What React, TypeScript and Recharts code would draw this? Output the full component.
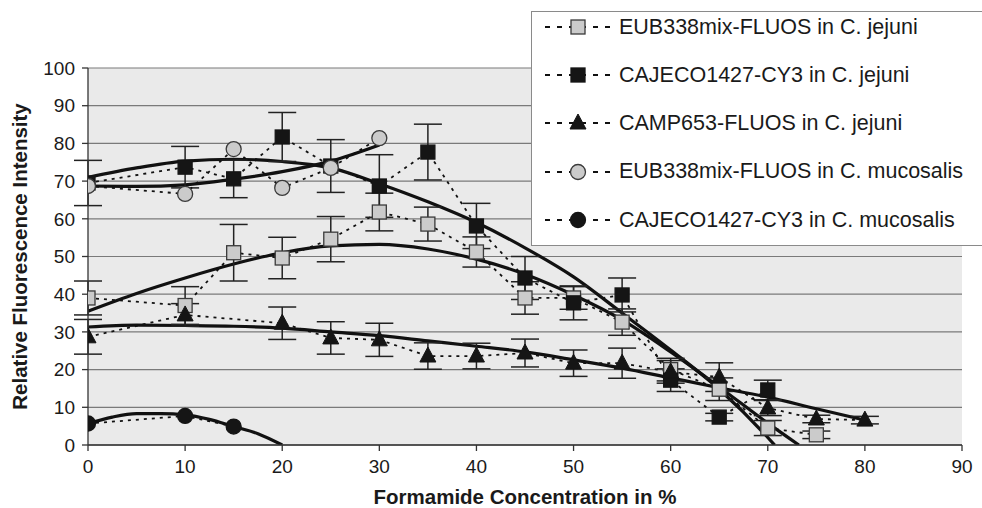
import { ComposedChart, Line, XAxis, YAxis, CartesianGrid, ErrorBar, Label } from "recharts";

const FONT = '"Liberation Sans", Arial, Helvetica, sans-serif';
const GRAY = "#cbcbcb";
const BLACK = "#151515";

// x = formamide %, y = relative fluorescence, err = +/- error
const eubJejuniX = [0, 10, 15, 20, 25, 30, 35, 40, 45, 50, 55, 60, 65, 70, 75];
const eubJejuniY = [39, 37, 51, 49.6, 54.6, 61.8, 58.6, 51.2, 39, 39, 32.6, 20, 14.8, 4.5, 2.7];
const eubJejuniErr = [4.5, 5, 7.5, 5.5, 6, 5, 4.5, 4, 4.3, 3, 3.5, 3, 3, 2, 1];

const cajJejuniX = [0, 10, 15, 20, 25, 30, 35, 40, 45, 50, 55, 60, 65, 70];
const cajJejuniY = [69.5, 73.7, 70.6, 81.7, 74, 68.7, 77.7, 58.1, 44.3, 37.7, 39.8, 17.2, 7.4, 14.6];
const cajJejuniErr = [6, 5.5, 5, 6.5, 7, 8.3, 7.4, 6, 5.7, 4.5, 4.5, 3, 1, 2.6];

const campJejuniX = [0, 10, 20, 25, 30, 35, 40, 45, 50, 55, 60, 65, 70, 75, 80];
const campJejuniY = [28.7, 34.5, 32.3, 28.4, 27.9, 23.6, 23.6, 24.4, 21.7, 21.7, 19.4, 18, 9.8, 6.9, 6.6];
const campJejuniErr = [4.6, 3, 4.3, 4.3, 4.4, 3.5, 3.4, 3.7, 3.5, 4, 3, 3.8, 2, 1, 1];

const eubMucoX = [0, 10, 15, 20, 25, 30];
const eubMucoY = [68.7, 66.6, 78.5, 68.2, 73.5, 81.4];

const cajMucoX = [0, 10, 15];
const cajMucoY = [5.7, 7.7, 4.9];

// trend curves
const eubJejuniTrendX = [0, 5, 10, 15, 20, 25, 30, 35, 40, 45, 50, 55, 60, 65, 70, 73.2];
const eubJejuniTrendY = [35.5, 40.2, 44.3, 48, 51, 52.8, 53.2, 52, 49.3, 45.3, 39.8, 33.2, 24.7, 15.4, 5.8, 0];

const cajJejuniTrendX = [0, 5, 10, 15, 20, 25, 30, 35, 40, 45, 50, 55, 60, 65, 70, 70.7];
const cajJejuniTrendY = [71, 73.5, 75.3, 75.8, 75.2, 73.5, 69.3, 64.5, 59, 52.3, 44.6, 35, 25.2, 14.8, 2, 0];

const campJejuniTrendX = [0, 5, 10, 15, 20, 25, 30, 35, 40, 45, 50, 55, 60, 65, 70, 75, 80];
const campJejuniTrendY = [31.3, 31.8, 31.7, 31.5, 31, 30, 29, 27.6, 26.2, 24.7, 22.6, 20.4, 17.8, 15.2, 12.7, 9.6, 6.6];

const eubMucoTrendX = [0, 5, 10, 15, 20, 25, 30];
const eubMucoTrendY = [68.7, 68.6, 69, 70.5, 72.5, 75.3, 79.6];

const cajMucoTrendX = [0, 2.5, 5, 7.5, 10, 12.5, 15, 17.5, 20];
const cajMucoTrendY = [5.7, 7.4, 8.3, 8.3, 8.0, 6.8, 4.9, 3.0, 0];

const xTicks = [0, 10, 20, 30, 40, 50, 60, 70, 80, 90];
const yTicks = [0, 10, 20, 30, 40, 50, 60, 70, 80, 90, 100];

type Shape = "square" | "triangle" | "circle";

const LEGEND: { name: string; shape: Shape; fill: string }[] = [
  { name: "EUB338mix-FLUOS in C. jejuni", shape: "square", fill: GRAY },
  { name: "CAJECO1427-CY3 in C. jejuni", shape: "square", fill: BLACK },
  { name: "CAMP653-FLUOS in C. jejuni", shape: "triangle", fill: BLACK },
  { name: "EUB338mix-FLUOS in C. mucosalis", shape: "circle", fill: GRAY },
  { name: "CAJECO1427-CY3 in C. mucosalis", shape: "circle", fill: BLACK },
];

const zip = (xs: number[], ys: number[], errs?: number[]) =>
  xs.map((x, i) => ({ x, y: ys[i], err: errs ? errs[i] : 0 }));

function Marker({ cx, cy, shape, fill }: { cx: number; cy: number; shape: Shape; fill: string }) {
  if (cx == null || cy == null || isNaN(cx) || isNaN(cy)) return null;
  const edge = fill === GRAY ? "#3a3a3a" : BLACK;
  if (shape === "square")
    return <rect x={cx - 7} y={cy - 7} width={14} height={14} fill={fill} stroke={edge} strokeWidth={1.3} />;
  if (shape === "triangle")
    return <polygon points={`${cx},${cy - 9} ${cx + 8},${cy + 6} ${cx - 8},${cy + 6}`} fill={fill} stroke={edge} strokeWidth={1} />;
  return <circle cx={cx} cy={cy} r={7.5} fill={fill} stroke={edge} strokeWidth={1.3} />;
}

const dotOf = (shape: Shape, fill: string) => (p: any) => (
  <Marker key={`${shape}-${fill}-${p.index}`} cx={p.cx} cy={p.cy} shape={shape} fill={fill} />
);

function LegendBox() {
  const centers = [26, 74, 122, 170.5, 219];
  return (
    <div
      style={{
        position: "absolute",
        left: 531,
        top: 11,
        width: 451,
        height: 235,
        boxSizing: "border-box",
        border: "1.5px solid #8a8a8a",
        borderRight: "none",
        background: "#fff",
        fontFamily: FONT,
      }}
    >
      {LEGEND.map((item, i) => (
        <div
          key={item.name}
          style={{
            position: "absolute",
            left: 13,
            top: centers[i] - 11 - 12,
            height: 24,
            display: "flex",
            alignItems: "center",
            whiteSpace: "nowrap",
          }}
        >
          <svg width={66} height={24}>
            <line x1={0} y1={12} x2={66} y2={12} stroke="#111" strokeWidth={2} strokeDasharray="5 7" />
            <Marker cx={33} cy={12} shape={item.shape} fill={item.fill} />
          </svg>
          <span style={{ marginLeft: 8, fontSize: 21.5, color: "#1a1a1a" }}>{item.name}</span>
        </div>
      ))}
    </div>
  );
}

export default function App() {
  const tickStyle = { fontSize: 19, fill: "#1a1a1a", fontFamily: FONT };
  const series = [
    { data: zip(eubJejuniX, eubJejuniY, eubJejuniErr), shape: "square" as Shape, fill: GRAY, err: true },
    { data: zip(cajJejuniX, cajJejuniY, cajJejuniErr), shape: "square" as Shape, fill: BLACK, err: true },
    { data: zip(campJejuniX, campJejuniY, campJejuniErr), shape: "triangle" as Shape, fill: BLACK, err: true },
    { data: zip(eubMucoX, eubMucoY), shape: "circle" as Shape, fill: GRAY, err: false },
    { data: zip(cajMucoX, cajMucoY), shape: "circle" as Shape, fill: BLACK, err: false },
  ];
  const trends = [
    zip(eubJejuniTrendX, eubJejuniTrendY),
    zip(cajJejuniTrendX, cajJejuniTrendY),
    zip(campJejuniTrendX, campJejuniTrendY),
    zip(eubMucoTrendX, eubMucoTrendY),
    zip(cajMucoTrendX, cajMucoTrendY),
  ];

  return (
    <div style={{ position: "absolute", left: 0, top: 0, width: 982, height: 508, background: "#fff", fontFamily: FONT }}>
      <ComposedChart width={982} height={508} margin={{ top: 68, right: 20, bottom: 0, left: 0 }}>
        <CartesianGrid vertical={false} stroke="#7a7a7a" strokeWidth={1.2} fill="#eaeaea" fillOpacity={1} />
        <XAxis
          type="number"
          dataKey="x"
          domain={[0, 90]}
          ticks={xTicks}
          allowDataOverflow
          height={63}
          tickSize={6}
          tickMargin={9}
          tick={tickStyle}
          axisLine={{ stroke: "#333", strokeWidth: 1.3 }}
          tickLine={{ stroke: "#333", strokeWidth: 1.3 }}
        >
          <Label
            value="Formamide Concentration in %"
            position="insideBottom"
            offset={4}
            style={{ fontSize: 20.5, fontWeight: 700, fill: "#1a1a1a", fontFamily: FONT }}
          />
        </XAxis>
        <YAxis
          type="number"
          domain={[0, 100]}
          ticks={yTicks}
          allowDataOverflow
          width={88}
          tickSize={6}
          tickMargin={7}
          tick={tickStyle}
          axisLine={{ stroke: "#333", strokeWidth: 1.3 }}
          tickLine={{ stroke: "#333", strokeWidth: 1.3 }}
        >
          <Label
            value="Relative Fluorescence Intensity"
            angle={-90}
            position="center"
            dx={-24}
            style={{ fontSize: 20.5, fontWeight: 700, fill: "#1a1a1a", fontFamily: FONT, textAnchor: "middle" }}
          />
        </YAxis>
        {trends.map((t, i) => (
          <Line
            key={`trend-${i}`}
            data={t}
            dataKey="y"
            type="monotone"
            stroke="#111"
            strokeWidth={3.2}
            dot={false}
            activeDot={false}
            isAnimationActive={false}
          />
        ))}
        {series.map((s, i) => (
          <Line
            key={`series-${i}`}
            data={s.data}
            dataKey="y"
            type="linear"
            stroke="#111"
            strokeWidth={1.8}
            strokeDasharray="3 5"
            dot={dotOf(s.shape, s.fill)}
            activeDot={false}
            isAnimationActive={false}
          >
            {s.err && <ErrorBar dataKey="err" direction="y" width={14} stroke="#222" strokeWidth={1.5} />}
          </Line>
        ))}
      </ComposedChart>
      <LegendBox />
    </div>
  );
}
